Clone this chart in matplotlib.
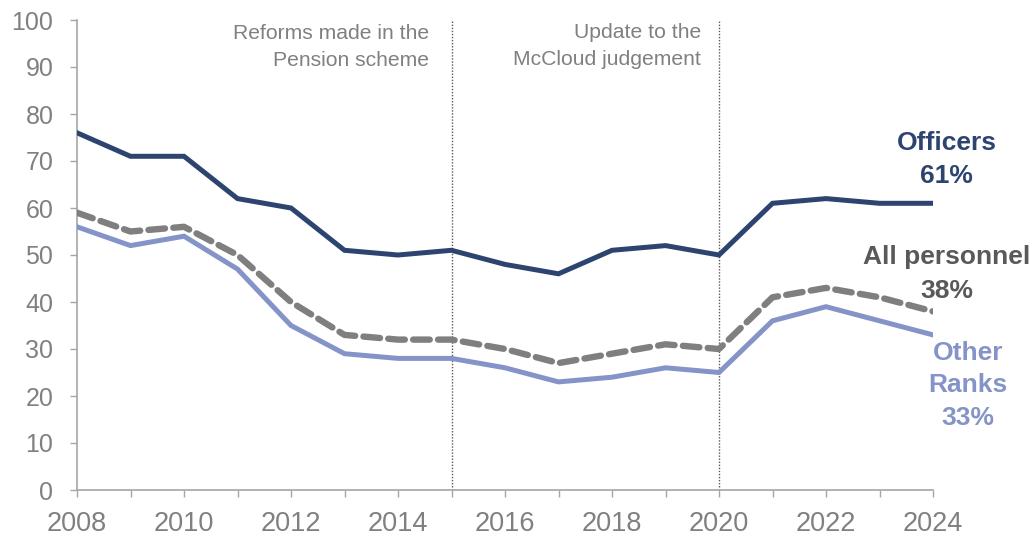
import matplotlib
matplotlib.use("Agg")
import matplotlib.pyplot as plt

plt.rcParams['font.family'] = ['Liberation Sans', 'DejaVu Sans']

years = list(range(2008, 2025))
officers = [76, 71, 71, 62, 60, 51, 50, 51, 48, 46, 51, 52, 50, 61, 62, 61, 61]
all_personnel = [59, 55, 56, 50, 40, 33, 32, 32, 30, 27, 29, 31, 30, 41, 43, 41, 38]
other_ranks = [56, 52, 54, 47, 35, 29, 28, 28, 26, 23, 24, 26, 25, 36, 39, 36, 33]
x_ticks = [2008, 2010, 2012, 2014, 2016, 2018, 2020, 2022, 2024]
y_ticks = list(range(0, 101, 10))
event_years = [2015, 2020]
event_texts = ["Reforms made in the\nPension scheme", "Update to the\nMcCloud judgement"]

c_off = '#2E4470'
c_all = '#7F7F7F'
c_oth = '#8494C8'
c_axis = '#A6A6A6'
c_text = '#808080'

fig = plt.figure(figsize=(10.34, 5.36), dpi=100)
ax = fig.add_axes([77/1034, 46/536, (933-77)/1034, (490-20)/536])

for ey in event_years:
    ax.axvline(ey, color='#595959', linestyle=(0, (1, 1.2)), linewidth=1.0, zorder=1)

ax.plot(years, other_ranks, color=c_oth, linewidth=3.6, solid_joinstyle='miter', zorder=3)
ax.plot(years, all_personnel, color=c_all, linewidth=4.6, linestyle=(0, (2.6, 1.3)),
        dash_capstyle='round', zorder=3)
ax.plot(years, officers, color=c_off, linewidth=3.6, solid_joinstyle='miter', zorder=4)

ax.set_xlim(2008, 2024)
ax.set_ylim(0, 100)
ax.set_xticks(years, minor=True)
ax.set_xticks(x_ticks)
ax.set_yticks(y_ticks)
ax.tick_params(axis='x', which='both', length=5, color=c_axis, width=1, direction='out')
ax.tick_params(axis='x', which='major', labelsize=19.5, labelcolor=c_text, pad=10)
ax.tick_params(axis='y', length=5, color=c_axis, width=1, labelsize=18, labelcolor=c_text, pad=12)
for s in ['top', 'right']:
    ax.spines[s].set_visible(False)
for s in ['left', 'bottom']:
    ax.spines[s].set_color(c_axis)
    ax.spines[s].set_linewidth(1.2)

ax.text(2014.58, 99.1, event_texts[0], ha='right', va='top', fontsize=15.2,
        color=c_text, linespacing=1.5, clip_on=False)
ax.text(2019.66, 99.3, event_texts[1], ha='right', va='top', fontsize=15.2,
        color=c_text, linespacing=1.5, clip_on=False)

ax.text(2024.25, 70.3, "Officers\n61%", ha='center', va='center', fontsize=19,
        fontweight='bold', color=c_off, linespacing=1.45, clip_on=False)
ax.text(2024.25, 46.0, "All personnel\n38%", ha='center', va='center', fontsize=19,
        fontweight='bold', color='#595959', linespacing=1.52, clip_on=False)
ax.text(2024.65, 22.3, "Other\nRanks\n33%", ha='center', va='center', fontsize=19,
        fontweight='bold', color=c_oth, linespacing=1.45, clip_on=False)

fig.savefig('out.png', dpi=100)
